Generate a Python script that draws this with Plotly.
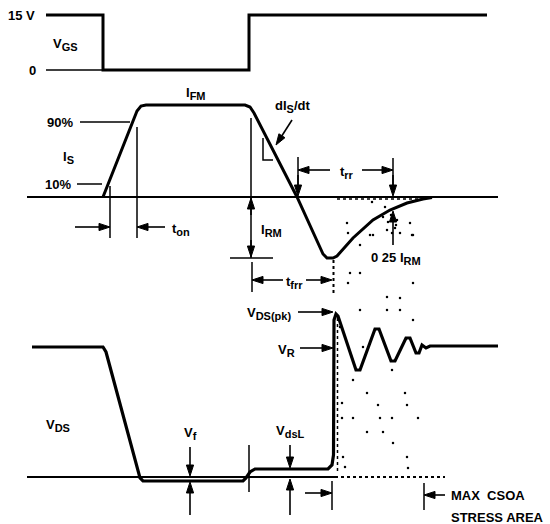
import math
import plotly.graph_objects as go

# ---------------- data (schematic waveform vertices) ----------------
vgs_t = [46, 103, 103, 249, 249, 487]
vgs_v = [15, 15, 70, 70, 15, 15]

is_t = [103, 137, 141, 146, 245, 250, 254, 297, 323, 327, 333, 337, 353, 373, 390, 407, 423, 432]
is_v = [197, 111, 106, 105, 105, 107, 113, 197, 254, 258, 258, 256, 238, 220, 210, 203, 199, 197.5]

vds_t = [32, 103, 106, 140, 143, 243, 246, 250, 255, 328, 332, 333.5, 334, 336, 338, 356, 360, 375, 379,
         391, 395, 406, 410, 416, 419, 422, 426, 430, 498]
vds_v = [347, 347, 352, 478, 481, 481, 478, 472, 469, 469, 465, 455, 320, 314, 316, 370, 370, 329, 329,
         361, 361, 338, 338, 353, 353, 345, 348, 346, 346]

stipple_x = [370, 392, 412, 360, 350, 360, 348, 413, 387, 400, 360, 387, 400, 413, 340, 363, 353, 392,
             367, 405, 342, 378, 407, 342, 353, 380, 392, 418, 367, 383, 393, 343, 407, 345, 408,
             347, 348, 373, 383, 387, 397, 400, 410, 413, 372, 385, 388, 396, 391, 395]
stipple_y = [235, 233, 235, 245, 273, 273, 283, 283, 297, 298, 310, 310, 310, 320, 327, 347, 380, 370,
             393, 393, 403, 405, 405, 418, 418, 418, 418, 418, 432, 432, 443, 457, 457, 467, 468,
             223, 233, 235, 217, 230, 220, 233, 223, 235, 202, 207, 222, 225, 215, 228]

SUB = "<sub><span style='font-size:11px'>{}</span></sub>"
labels = [
    ("15 V", 21, 15), ("0", 32, 70), ("V" + SUB.format("GS"), 65, 44),
    ("I" + SUB.format("FM"), 196, 93), ("90%", 60, 122), ("10%", 58, 184), ("I" + SUB.format("S"), 68, 157),
    ("t" + SUB.format("on"), 181, 229), ("I" + SUB.format("RM"), 271, 230),
    ("dI" + SUB.format("S") + "/dt", 292, 106),
    ("t" + SUB.format("rr"), 347, 172), ("0 25 I" + SUB.format("RM"), 396, 258),
    ("t" + SUB.format("frr"), 294, 282),
    ("V" + SUB.format("DS(pk)"), 269, 313), ("V" + SUB.format("R"), 286, 350),
    ("V" + SUB.format("DS"), 58, 425),
    ("V" + SUB.format("f"), 190, 433), ("V" + SUB.format("dsL"), 290, 431),
]

# arrows: (tail, head)
arrows = [
    ((75, 227), (110, 227)), ((165, 227), (137, 227)),
    ((251, 215), (251, 198)), ((251, 240), (251, 257)),
    ((283, 280), (252, 280)), ((306, 280), (332, 280)),
    ((330, 170), (298, 170)), ((362, 170), (393, 170)),
    ((298, 175), (298, 196)), ((393, 175), (393, 196)),
    ((292, 120), (276, 145)), ((393, 245), (393, 211)),
    ((298, 312), (333, 312)), ((300, 348), (333, 348)),
    ((190, 447), (190, 476)), ((190, 515), (190, 482)),
    ((290, 445), (290, 468)), ((290, 515), (290, 479)),
    ((305, 493), (332, 493)), ((445, 495), (424, 495)),
]

# ---------------- figure ----------------
fig = go.Figure()
BLK = "black"

def seg(xs, ys, w=1.5, dash="solid"):
    fig.add_trace(go.Scatter(x=xs, y=ys, mode="lines", line=dict(color=BLK, width=w, dash=dash),
                             hoverinfo="skip", showlegend=False))

# baselines
seg([46, 103], [70, 70], 1.5)
seg([27, 498], [197, 197], 2)
seg([27, 335], [477, 477], 2)
seg([335, 445], [477, 477], 2, "dot")
seg([337, 422], [199, 199], 1.5, "dot")

# waveforms
seg(vgs_t, vgs_v, 3)
seg(is_t, is_v, 3)
seg(vds_t, vds_v, 3.2)
seg([337.5, 337.5], [318, 474], 1.5, "dot")

# reference / marker lines
seg([80, 130], [122, 122])
seg([77, 102], [184, 184])
seg([110, 110], [186, 238])
seg([137, 137], [127, 238])
seg([251, 251], [118, 258])
seg([230, 273], [258, 258])
seg([252, 252], [262, 292])
seg([333.5, 333.5], [260, 295], 2, "dot")
seg([263, 263, 273], [138, 160, 160])
seg([298, 298], [157, 190])
seg([393, 393], [158, 190])
seg([249, 249], [445, 492])
seg([332, 332], [481, 510])
seg([424, 424], [483, 510])

# stipple dots
fig.add_trace(go.Scatter(x=stipple_x, y=stipple_y, mode="markers",
                         marker=dict(color=BLK, size=2.5), hoverinfo="skip", showlegend=False))

# arrows: shaft + filled head polygon derived from the endpoints
HL, HW = 11.0, 3.6
for (tx, ty), (hx, hy) in arrows:
    dx, dy = hx - tx, hy - ty
    n = math.hypot(dx, dy)
    ux, uy = dx / n, dy / n
    bx, by = hx - ux * HL, hy - uy * HL
    px, py = -uy * HW, ux * HW
    seg([tx, bx], [ty, by], 1.6)
    fig.add_trace(go.Scatter(x=[hx, bx + px, bx - px, hx], y=[hy, by + py, by - py, hy],
                             mode="lines", fill="toself", fillcolor=BLK,
                             line=dict(color=BLK, width=1), hoverinfo="skip", showlegend=False))

FONT = dict(family="Liberation Sans Narrow, Liberation Sans, Arial", size=13, color=BLK, weight="bold")
for t, x, y in labels:
    fig.add_annotation(x=x, y=y, xref="x", yref="y", text=t, showarrow=False, font=FONT,
                       xanchor="center", yanchor="middle")
fig.add_annotation(x=449, y=495, text="MAX  CSOA", showarrow=False, font=FONT, xanchor="left", yanchor="middle")
fig.add_annotation(x=449, y=517, text="STRESS AREA", showarrow=False, font=FONT, xanchor="left", yanchor="middle")

fig.update_xaxes(range=[0, 550], visible=False, showgrid=False, zeroline=False)
fig.update_yaxes(range=[524, 0], visible=False, showgrid=False, zeroline=False)
fig.update_layout(width=550, height=524, margin=dict(l=0, r=0, t=0, b=0),
                  plot_bgcolor="white", paper_bgcolor="white", showlegend=False)

fig.write_html("out.html", config={"displayModeBar": False, "staticPlot": True},
               post_script="document.body.style.margin='0';document.body.style.overflow='hidden';")
